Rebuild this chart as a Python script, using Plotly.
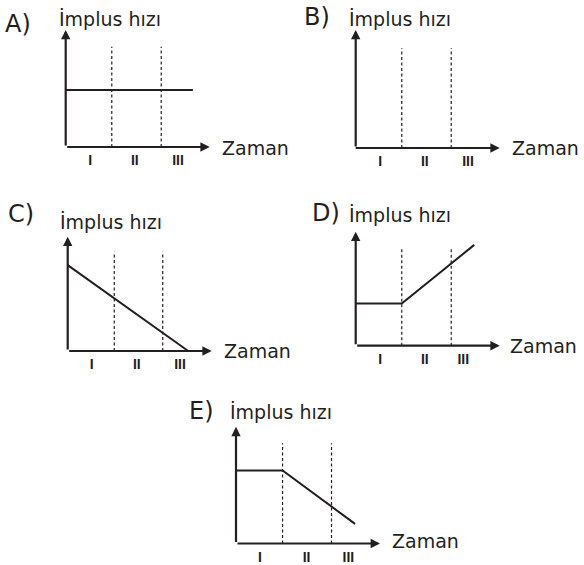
import plotly.graph_objects as go

W, H = 584, 565
UNIT = 48  # px per data unit, same on both axes
INK = "#231f20"
FONT = "DejaVu Sans"

panels = ["A", "B", "C", "D", "E"]
y_title = "İmplus hızı"
x_title = "Zaman"
tick_text = ["I", "II", "III"]

# data (units of the drawing)
dash_x = {"A": [0.96, 1.99], "B": [0.96, 1.99], "C": [0.97, 1.98], "D": [0.96, 1.99], "E": [0.97, 1.99]}
dash_top = {"A": 2.09, "B": 2.08, "C": 2.07, "D": 2.06, "E": 2.09}
speed_x = {"A": [0, 2.65], "B": [0, 2.65], "C": [0, 2.51], "D": [0, 0.96, 2.47], "E": [0, 0.97, 2.48]}
speed_y = {"A": [1.19, 1.19], "B": [0, 0], "C": [1.79, 0], "D": [0.88, 0.88, 2.10], "E": [1.52, 1.52, 0.41]}
axis_len_x = {"A": 3.0, "B": 3.0, "C": 3.0, "D": 3.0, "E": 3.0}
axis_len_y = {"A": 2.44, "B": 2.46, "C": 2.38, "D": 2.375, "E": 2.43}
tick_x = {"A": [0.51, 1.44, 2.34], "B": [0.51, 1.44, 2.34], "C": [0.5, 1.44, 2.34],
          "D": [0.51, 1.44, 2.24], "E": [0.5, 1.47, 2.34]}

# page layout (px): axis origin, letter centre, y title left/middle, x title left/middle
origin = {"A": (65.7, 147), "B": (355.7, 148), "C": (67.7, 351), "D": (355.7, 345.7), "E": (236, 543.5)}
letter_pos = {"A": (18, 24), "B": (317, 17), "C": (21, 214), "D": (326, 212.5), "E": (201, 411)}
ytitle_pos = {"A": (57, 19), "B": (347, 19), "C": (58, 222), "D": (347, 214.7), "E": (228, 412)}
xtitle_pos = {"A": (220, 148), "B": (510, 148), "C": (222, 350.7), "D": (508, 345.7), "E": (390, 540.7)}

PAD_L, PAD_R, PAD_B, PAD_T = 12, 12, 3, 12

fig = go.Figure()
layout = dict(width=W, height=H, margin=dict(l=0, r=0, t=0, b=0, autoexpand=False),
              template="none",
              paper_bgcolor="white", plot_bgcolor="rgba(0,0,0,0)", showlegend=False)
annotations = []

for i, p in enumerate(panels):
    n = "" if i == 0 else str(i + 1)
    xr, yr = "x" + n, "y" + n
    ox, oy = origin[p]
    xl, yl = axis_len_x[p], axis_len_y[p]

    layout["xaxis" + n] = dict(
        domain=[(ox - PAD_L) / W, (ox + xl * UNIT + PAD_R) / W],
        range=[-PAD_L / UNIT, xl + PAD_R / UNIT], automargin=False,
        anchor=yr, showgrid=False, zeroline=False, showline=False,
        tickmode="array", tickvals=tick_x[p], ticktext=tick_text, ticks="",
        tickfont=dict(family="Liberation Sans", size=14, color=INK, weight="bold"),
        fixedrange=True)
    layout["yaxis" + n] = dict(
        domain=[1 - (oy + PAD_B) / H, 1 - (oy - yl * UNIT - PAD_T) / H],
        range=[-PAD_B / UNIT, yl + PAD_T / UNIT], automargin=False,
        anchor=xr, showgrid=False, zeroline=False, showline=False,
        showticklabels=False, fixedrange=True)

    # dashed region borders
    dx, dy = [], []
    for d in dash_x[p]:
        dx += [d, d, None]
        dy += [0, dash_top[p], None]
    fig.add_trace(go.Scatter(x=dx, y=dy, xaxis=xr, yaxis=yr, mode="lines",
                             line=dict(color=INK, width=1.2, dash="3px,2.5px"),
                             hoverinfo="skip"))
    # impulse speed
    fig.add_trace(go.Scatter(x=speed_x[p], y=speed_y[p], xaxis=xr, yaxis=yr, mode="lines",
                             line=dict(color=INK, width=2)))

    # axes with arrow heads
    for tip in [(xl, 0), (0, yl)]:
        annotations.append(dict(x=tip[0], y=tip[1], ax=0, ay=0, xref=xr, yref=yr,
                                axref=xr, ayref=yr, text="", showarrow=True,
                                arrowhead=2, arrowsize=0.85, arrowwidth=2.2,
                                arrowcolor=INK, standoff=0, startstandoff=0))

    lx, ly = letter_pos[p]
    annotations.append(dict(x=lx / W, y=1 - ly / H, xref="paper", yref="paper",
                            text=p + ")", showarrow=False, xanchor="center", yanchor="middle",
                            font=dict(family=FONT, size=24, color=INK)))
    tx, ty = ytitle_pos[p]
    annotations.append(dict(x=tx / W, y=1 - ty / H, xref="paper", yref="paper",
                            text=y_title, showarrow=False, xanchor="left", yanchor="middle",
                            font=dict(family=FONT, size=19, color=INK)))
    zx, zy = xtitle_pos[p]
    annotations.append(dict(x=zx / W, y=1 - zy / H, xref="paper", yref="paper",
                            text=x_title, showarrow=False, xanchor="left", yanchor="middle",
                            font=dict(family=FONT, size=19, color=INK)))

layout["annotations"] = annotations
fig.update_layout(**layout)
# the page body has an 8px margin by default; drop it so the figure sits at the top-left corner
fig.write_html("out.html", config={"displayModeBar": False},
               post_script="document.body.style.margin='0';")
